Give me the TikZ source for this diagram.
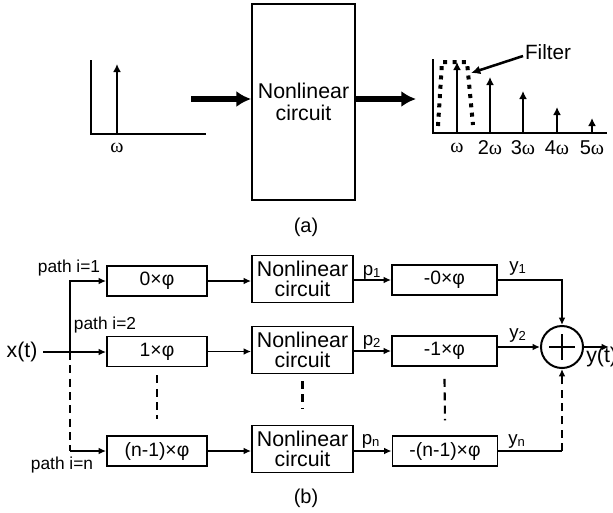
\documentclass[tikz,border=0pt]{standalone}
\usepackage{fontspec}
\setmainfont{Liberation Sans}
\newfontfamily\serifw{Liberation Serif}
\usetikzlibrary{arrows.meta}
\tikzset{
  thin line/.style={line width=1.3pt},
  blk/.style={draw, line width=1.4pt, minimum width=75pt, minimum height=22.5pt, inner sep=0pt, font=\fontsize{14.5}{16}\selectfont},
  nlblk/.style={draw, line width=1.4pt, minimum width=75.75pt, minimum height=35.25pt, inner sep=0pt, align=center, font=\fontsize{16}{15}\selectfont},
  arr/.style={line width=1.3pt, -{Latex[length=5.5pt,width=5pt]}},
  bigarr/.style={line width=3.9pt, -{Latex[length=11pt,width=12pt]}},
  specarr/.style={line width=2.2pt, -{Latex[length=6pt,width=6pt]}},
  axis/.style={line width=1.7pt},
  dsh/.style={line width=1.6pt, dash pattern=on 6pt off 4pt},
  lbl/.style={inner sep=0pt, font=\fontsize{13}{14}\selectfont},
  sublbl/.style={inner sep=0pt, font=\fontsize{14}{14}\selectfont},
  wl/.style={inner sep=0pt, font=\fontsize{15}{15}\selectfont},
  captxt/.style={inner sep=0pt, font=\fontsize{15}{16}\selectfont},
}
\newcommand{\om}{{\serifw ω}}
\begin{document}
\begin{tikzpicture}[x=0.75pt,y=-0.75pt]
\useasboundingbox (0,0) rectangle (613,512);
% ---------- (a) ----------
% left spectrum
\coordinate (la0) at (91,60);
\coordinate (la1) at (91,134);
\coordinate (la2) at (206,134);
\draw[axis] (la0) -- (la1) -- (la2);
\coordinate (lw) at (117,134);
\coordinate (lwt) at (117,64);
\draw[specarr] (lw) -- (lwt);
\node[wl] (lwl) at (117,148) {\om};
% nonlinear box
\node[draw, line width=1.4pt, minimum width=77.25pt, minimum height=147pt, inner sep=0pt, align=center, font=\fontsize{16}{16}\selectfont] (nl) at (303.5,102) {Nonlinear\\circuit};
\coordinate (ain) at (191,99);
\draw[bigarr] (ain) -- (ain -| nl.west);
\coordinate (aout) at (416,99);
\draw[bigarr] (nl.east |- aout) -- (aout);
% right spectrum
\coordinate (ra0) at (433,59);
\coordinate (ra1) at (433,133);
\coordinate (ra2) at (607,133);
\draw[axis] (ra0) -- (ra1) -- (ra2);
\foreach \xx/\yy/\nm/\t in {457/62/1/{\om}, 490/77/2/{2\om}, 523/91/3/{3\om}, 557/107/4/{4\om}, 592/118/5/{5\om}}{
  \coordinate (h\nm b) at (\xx,133);
  \coordinate (h\nm t) at (\xx,\yy);
  \draw[specarr] (h\nm b) -- (h\nm t);
  \node[wl] (h\nm l) at (\xx,148) {\t};
}
% filter
\coordinate (f0) at (438,126);
\coordinate (f1) at (442,62);
\coordinate (f2) at (467,62);
\coordinate (f3) at (473,125);
\draw[line width=3pt, dash pattern=on 3pt off 4pt] (f0) -- (f1) -- (f2) -- (f3);
\node[inner sep=0pt, font=\fontsize{15.5}{16}\selectfont] (filt) at (548,52) {Filter};
\coordinate (fa0) at (523,56);
\coordinate (fa1) at (471,73);
\draw[line width=1.9pt, -{Latex[length=7pt,width=6.5pt]}] (fa0) -- (fa1);
\node[captxt] (capa) at (306,227) {(a)};
% ---------- (b) ----------
\node[inner sep=0pt, font=\fontsize{16}{16}\selectfont] (x) at (22,352) {x(t)};
\node[blk] (b0) at (157,281) {0×φ};
\node[blk] (b1) at (157,351.5) {1×φ};
\node[blk] (bn) at (157,451) {(n-1)×φ};
\node[nlblk] (n0) at (302.5,279) {Nonlinear\\circuit};
\node[nlblk] (n1) at (302.5,350) {Nonlinear\\circuit};
\node[nlblk] (nn) at (302.5,449) {Nonlinear\\circuit};
\node[blk, minimum width=78.75pt] (m0) at (444.5,280) {-0×φ};
\node[blk, minimum width=78.75pt] (m1) at (444.5,351) {-1×φ};
\node[blk, minimum width=78.75pt] (mn) at (445,451) {-(n-1)×φ};
\node[draw, circle, line width=1.5pt, minimum size=31.5pt, inner sep=0pt] (sum) at (562,347) {};
\draw[line width=1.5pt] ([xshift=-9.75pt]sum.center) -- ([xshift=9.75pt]sum.center);
\draw[line width=1.5pt] ([yshift=-9.75pt]sum.center) -- ([yshift=9.75pt]sum.center);
% input split
\coordinate (split) at (70,352);
\draw[arr] ([xshift=4pt]x.east) -- (b1.west |- x.east);
\draw[arr] (split) |- (b0.west);
\coordinate (splitn) at (70,451);
\draw[dsh] (split) -- (splitn);
\draw[arr] (splitn) -- (bn.west);
% rows
\draw[arr] (b0.east) -- (b0.east -| n0.west);
\draw[arr] (b1.east) -- (b1.east -| n1.west);
\draw[arr] (bn.east) -- (bn.east -| nn.west);
\draw[arr] (n0.east |- m0.west) -- (m0.west);
\draw[arr] (n1.east |- m1.west) -- (m1.west);
\draw[arr] (nn.east |- mn.west) -- (mn.west);
\draw[arr] (m0.east) -| (sum.north);
\draw[arr] (m1.east |- sum.west) -- (sum.west);
\coordinate (yne) at (sum.center |- mn.east);
\draw[thin line] (mn.east) -- (yne);
\draw[dsh, -{Latex[length=5.5pt,width=5pt]}] (yne) -- (sum.south);
\coordinate (yout) at (609,347);
\draw[arr] (sum.east) -- (yout);
\node[inner sep=0pt, anchor=west, font=\fontsize{16}{16}\selectfont] (y) at (586,357) {y(t)};
% dashed verticals
\draw[dsh] ([yshift=-6]b1.south) -- ([yshift=12]bn.north);
\draw[dsh] ([yshift=-5]n1.south) -- ([yshift=12]nn.north);
\draw[dsh] ([yshift=-9]m1.south) -- ([yshift=11]mn.north);
% labels
\node[lbl] (pl1) at (69,268) {path i=1};
\node[lbl] (pl2) at (105,325) {path i=2};
\node[lbl] (pln) at (62,465) {path i=n};
\node[sublbl] (p1) at (372,272) {p\textsubscript{1}};
\node[sublbl] (p2) at (372,342) {p\textsubscript{2}};
\node[sublbl] (pn) at (371,441) {p\textsubscript{n}};
\node[sublbl] (y1) at (518,268) {y\textsubscript{1}};
\node[sublbl] (y2) at (518,335) {y\textsubscript{2}};
\node[sublbl] (yn) at (517,441) {y\textsubscript{n}};
\node[captxt] (capb) at (306,498) {(b)};
\end{tikzpicture}
\end{document}
